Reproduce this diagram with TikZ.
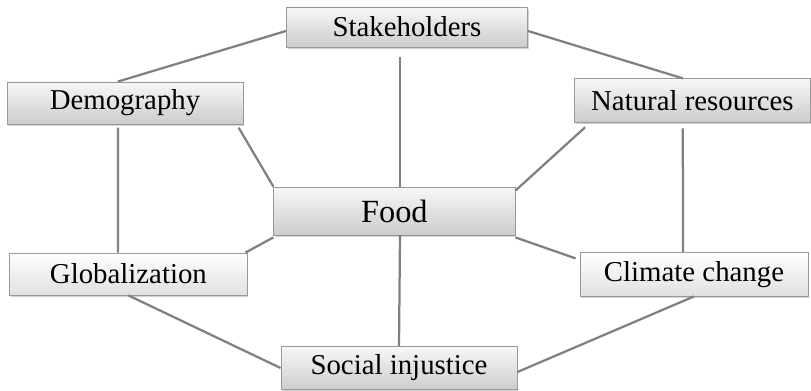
\documentclass[tikz,border=0pt]{standalone}
\usepackage{fontspec}
\setmainfont{Liberation Serif}
\usetikzlibrary{shadows}
\begin{document}
\begin{tikzpicture}[
    topic/.style={draw=black!40, line width=0.6pt, top color=white!97!black, bottom color=black!20,
      drop shadow={shadow xshift=1pt, shadow yshift=-1.2pt, opacity=0.35},
      minimum width=5.9cm, minimum height=1.05cm, inner sep=0pt,
      font=\fontsize{20.5}{23}\selectfont},
    lighttopic/.style={topic, top color=white, bottom color=black!12},
    link/.style={draw=black!50, line width=1.6pt}
  ]
  \useasboundingbox (0,0) rectangle (20.275,9.75);
  % boxes
  \node[topic, minimum width=6.03cm, minimum height=1.0cm] (stake) at (10.175,9.075) {Stakeholders};
  \node[topic] (demo) at (3.125,7.175) {Demography};
  \node[topic, minimum width=5.88cm, minimum height=1.08cm] (nat) at (17.31,7.24) {Natural resources};
  \node[topic, minimum width=6.03cm, minimum height=1.2cm, font=\fontsize{23}{26}\selectfont] (food) at (9.86,4.475) {Food};
  \node[lighttopic, minimum width=5.93cm] (glob) at (3.21,2.9) {Globalization};
  \node[lighttopic, minimum width=5.7cm, minimum height=1.08cm] (clim) at (17.35,2.89) {Climate change};
  \node[topic, minimum height=1.08cm] (soc) at (9.975,0.55) {Social injustice};
  % outer ring
  \draw[link] ([yshift=-0.1cm]stake.west) -- ([xshift=-0.18cm]demo.north);
  \draw[link] ([yshift=-0.1cm]stake.east) -- ([xshift=-0.24cm]nat.north);
  \draw[link] ([xshift=-0.175cm,yshift=-0.08cm]demo.south) -- ([xshift=-0.26cm]glob.north);
  \draw[link] ([xshift=-0.24cm,yshift=-0.15cm]nat.south) -- ([xshift=-0.275cm]clim.north);
  \draw[link] (glob.south) -- (soc.west);
  \draw[link] (clim.south) -- ([yshift=-0.1cm]soc.east);
  % spokes
  \draw[link] ([xshift=-0.175cm,yshift=-0.25cm]stake.south) -- ([xshift=0.14cm]food.north);
  \draw[link] ([xshift=-0.12cm,yshift=-0.08cm]demo.south east) -- (food.north west);
  \draw[link] ([xshift=0.27cm,yshift=-0.12cm]nat.south west) -- ([yshift=-0.1cm]food.north east);
  \draw[link] ([yshift=-0.05cm]food.south west) -- ([xshift=-0.05cm]glob.north east);
  \draw[link] ([yshift=-0.05cm]food.south east) -- ([xshift=-0.1cm,yshift=-0.15cm]clim.north west);
  \draw[link] ([xshift=0.14cm]food.south) -- (soc.north);
\end{tikzpicture}
\end{document}
